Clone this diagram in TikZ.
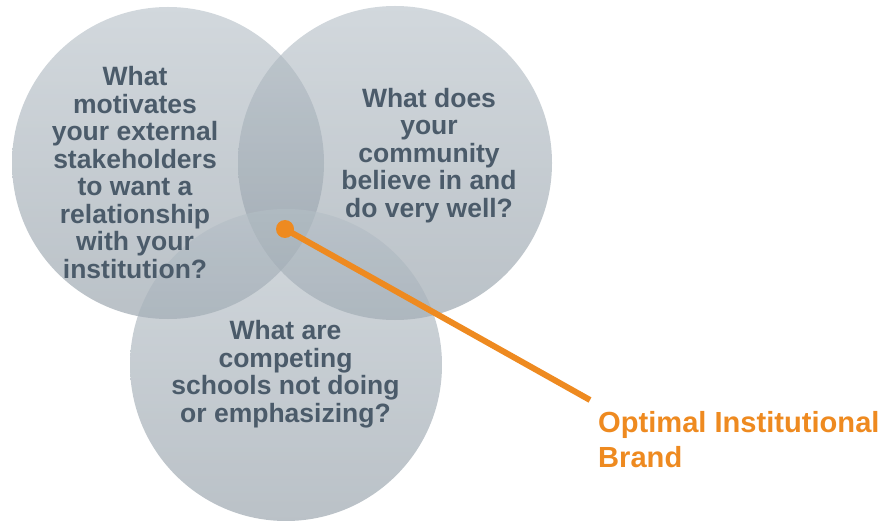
\documentclass[tikz,border=0pt]{standalone}
\usepackage{fontspec}
\setmainfont{Liberation Sans}
\definecolor{qtext}{HTML}{4B5B6A}
\definecolor{brandorange}{HTML}{EE8A20}
\definecolor{discTop}{HTML}{B4BEC6}
\definecolor{discBot}{HTML}{8C98A2}
\begin{document}
\begin{tikzpicture}[x=1pt,y=1pt,
  disc/.style={fill opacity=0.6, top color=discTop, bottom color=discBot, draw=none},
  question/.style={font=\bfseries\fontsize{26.5}{27.5}\selectfont, text=qtext,
    align=center, inner sep=0pt},
  brand/.style={font=\bfseries\fontsize{29.1}{34.3}\selectfont, text=brandorange,
    align=left, inner sep=0pt}]
  \useasboundingbox (0,0) rectangle (893,520);

  % three overlapping translucent discs
  \path[disc] (168,357) circle[radius=156];
  \path[disc] (395,357) circle[radius=157];
  \path[disc] (286,155) circle[radius=156];

  % questions
  \node[question] (motivates) at (135,347.7)
    {What\\motivates\\your external\\stakeholders\\to want a\\relationship\\with your\\institution?};
  \node[question] (community) at (429,364.8)
    {What does\\your\\community\\believe in and\\do very well?};
  \node[question] (competing) at (285.5,145.6)
    {What are\\competing\\schools not doing\\or emphasizing?};

  % pointer to the common area
  \node[circle, fill=brandorange, inner sep=0pt, minimum size=18pt] (sweet) at (285,291) {};
  \coordinate (tip) at (590,120);
  \draw[brandorange, line width=6pt] (sweet.center) -- (tip);

  \node[brand, anchor=north west] (label) at (598,108.3) {Optimal Institutional\\Brand};
\end{tikzpicture}
\end{document}
